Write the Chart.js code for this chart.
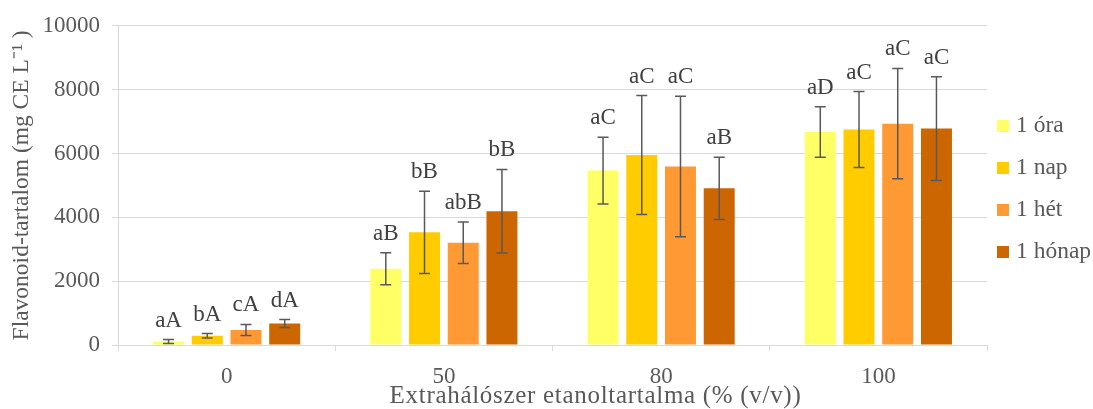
<!DOCTYPE html>
<html lang="hu">
<head>
  <meta charset="UTF-8">
  <title>Flavonoid-tartalom</title>
  <script src="https://cdn.jsdelivr.net/npm/chart.js"></script>
  <style>
    body { margin: 0; background: #fff; }
    #wrap { width: 1093px; height: 409px; }
  </style>
</head>
<body>
<div id="wrap"><canvas id="chart" width="1093" height="409"></canvas></div>
<script>
// categories (ethanol content of the extractant, % v/v)
const categories = ['0', '50', '80', '100'];
const seriesNames = ['1 óra', '1 nap', '1 hét', '1 hónap'];

// mean values (mg CE / L)
const ora   = [110, 2390, 5465, 6675];
const nap   = [290, 3530, 5950, 6750];
const het   = [470, 3200, 5595, 6935];
const honap = [670, 4190, 4910, 6780];

// standard deviations (error bars)
const oraErr   = [60, 500, 1045, 790];
const napErr   = [70, 1290, 1865, 1190];
const hetErr   = [175, 650, 2200, 1730];
const honapErr = [125, 1310, 975, 1625];

// significance letters over the bars
const oraLetters   = ['aA', 'aB', 'aC', 'aD'];
const napLetters   = ['bA', 'bB', 'aC', 'aC'];
const hetLetters   = ['cA', 'abB', 'aC', 'aC'];
const honapLetters = ['dA', 'bB', 'aB', 'aC'];

const yTicks = [0, 2000, 4000, 6000, 8000, 10000];
const xTitle = 'Extrahálószer etanoltartalma (% (v/v))';
const yTitle = 'Flavonoid-tartalom (mg CE L⁻¹ )';

const FONT = '"Liberation Serif", "Times New Roman", serif';
const TEXT = '#595959';
const GRID = '#d9d9d9';
const colors = ['#ffff66', '#ffcc00', '#ff9933', '#cc6600'];

const values = [ora, nap, het, honap];
const errors = [oraErr, napErr, hetErr, honapErr];
const letters = [oraLetters, napLetters, hetLetters, honapLetters];

// error bars + letters
const errorBars = {
  id: 'errorBars',
  afterDatasetsDraw(chart) {
    const ctx = chart.ctx;
    const y = chart.scales.y;
    chart.data.datasets.forEach((ds, i) => {
      chart.getDatasetMeta(i).data.forEach((bar, j) => {
        const v = ds.data[j], e = ds.errors[j];
        const top = y.getPixelForValue(v + e);
        const bot = y.getPixelForValue(v - e);
        ctx.save();
        ctx.strokeStyle = '#595959';
        ctx.lineWidth = 1.5;
        ctx.beginPath();
        ctx.moveTo(bar.x, top); ctx.lineTo(bar.x, bot);
        ctx.moveTo(bar.x - 5.5, top); ctx.lineTo(bar.x + 5.5, top);
        ctx.moveTo(bar.x - 5.5, bot); ctx.lineTo(bar.x + 5.5, bot);
        ctx.stroke();
        ctx.fillStyle = '#404040';
        ctx.font = '23px ' + FONT;
        ctx.textAlign = 'center';
        ctx.textBaseline = 'alphabetic';
        ctx.fillText(ds.letters[j], bar.x, top - 13);
        ctx.restore();
      });
    });
  }
};

// legend on the right and the x axis title, drawn by hand so spacing matches
const sideLegend = {
  id: 'sideLegend',
  afterDraw(chart) {
    const ctx = chart.ctx;
    const x = chart.chartArea.right + 10;
    ctx.save();
    ctx.font = '23.5px ' + FONT;
    ctx.textBaseline = 'middle';
    ctx.textAlign = 'left';
    chart.data.datasets.forEach((ds, i) => {
      const yy = 126 + i * 42;
      ctx.fillStyle = ds.backgroundColor;
      ctx.fillRect(x, yy - 6, 12, 12);
      ctx.fillStyle = TEXT;
      ctx.fillText(ds.label, x + 19, yy);
    });

    // x title sits a bit right of the plot centre in the original
    ctx.font = '25px ' + FONT;
    ctx.letterSpacing = '0.7px';
    ctx.textAlign = 'center';
    ctx.textBaseline = 'alphabetic';
    ctx.fillText(xTitle, chart.chartArea.left + chart.chartArea.width / 2 + 43, 403);
    ctx.restore();
  }
};

new Chart(document.getElementById('chart'), {
  type: 'bar',
  data: {
    labels: categories,
    datasets: seriesNames.map((name, i) => ({
      label: name,
      data: values[i],
      errors: errors[i],
      letters: letters[i],
      backgroundColor: colors[i],
      categoryPercentage: 0.713,
      barPercentage: 0.8
    }))
  },
  options: {
    responsive: false,
    animation: false,
    layout: { padding: { top: 22, right: 106, left: 0, bottom: 0 } },
    plugins: {
      legend: { display: false },
      tooltip: { enabled: false }
    },
    scales: {
      x: {
        offset: true,
        grid: { drawOnChartArea: false, drawTicks: true, tickLength: 6, color: GRID },
        border: { color: GRID },
        ticks: { font: { family: FONT, size: 23 }, color: TEXT, padding: 12 },
        title: { display: false },
        afterFit: s => { s.height = 64; }
      },
      y: {
        min: 0,
        max: 10000,
        afterBuildTicks: s => { s.ticks = yTicks.map(v => ({ value: v })); },
        grid: { color: GRID, tickLength: 6 },
        border: { color: GRID },
        ticks: {
          font: { family: FONT, size: 23 },
          color: TEXT,
          padding: 12,
          callback: v => String(v)
        },
        title: {
          display: true,
          text: yTitle,
          font: { family: FONT, size: 23.5 },
          color: TEXT,
          padding: { top: 8, bottom: 0 }
        },
        afterFit: s => { s.width = 118; }
      }
    }
  },
  plugins: [errorBars, sideLegend]
});
</script>
</body>
</html>
